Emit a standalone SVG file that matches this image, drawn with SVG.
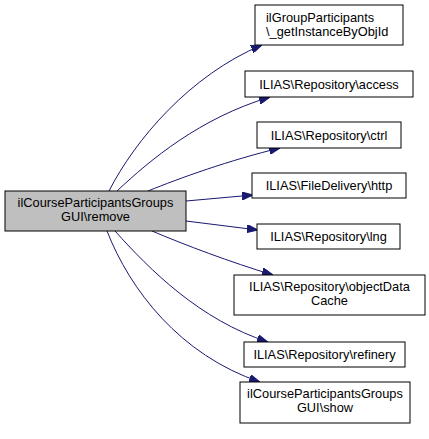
<svg xmlns="http://www.w3.org/2000/svg" width="429" height="439" viewBox="0 0 429 439">
<style>
.box{fill:#fff;stroke:#000;stroke-width:1}
.main{fill:#bfbfbf;stroke:#000;stroke-width:1}
text{font-family:"Liberation Sans",Arial,Helvetica,sans-serif;font-size:12.8px;fill:#000}
.c{text-anchor:middle}
.e{fill:none;stroke:#191970;stroke-width:1;marker-end:url(#ah)}
</style>
<defs>
<marker id="ah" markerUnits="userSpaceOnUse" markerWidth="11" markerHeight="8" refX="11" refY="4" orient="auto">
<path d="M0,0 L11,4 L0,8 z" fill="#191970" stroke="#191970" stroke-width="1"/>
</marker>
</defs>
<rect width="429" height="439" fill="#fff"/>
<g id="connectors">
<path class="e" d="M109,191 C135,140 190,75 262,45"/>
<path class="e" d="M117,191 C150,160 200,118 270,97"/>
<path class="e" d="M148,191 C180,178 230,160 280,148"/>
<path class="e" d="M186,201 L253,195"/>
<path class="e" d="M186,221 L258,230"/>
<path class="e" d="M152,231 C185,245 230,262 273,275"/>
<path class="e" d="M115,231 C150,270 200,320 268,342"/>
<path class="e" d="M107,231 C130,290 180,355 260,382"/>
</g>
<g id="node-main">
<rect class="main" x="5" y="191" width="181" height="40"/>
<text class="c" x="95.5" y="207">ilCourseParticipantsGroups</text>
<text class="c" x="95.5" y="221">GUI\remove</text>
</g>
<g id="node-getInstance">
<rect class="box" x="255" y="5" width="148" height="40"/>
<text x="266" y="22">ilGroupParticipants</text>
<text x="266" y="36">\_getInstanceByObjId</text>
</g>
<g id="node-access">
<rect class="box" x="245" y="71" width="168" height="26"/>
<text class="c" x="329" y="88.5">ILIAS\Repository\access</text>
</g>
<g id="node-ctrl">
<rect class="box" x="257" y="122" width="144" height="26"/>
<text class="c" x="329" y="139.5">ILIAS\Repository\ctrl</text>
</g>
<g id="node-http">
<rect class="box" x="252" y="173" width="154" height="25"/>
<text class="c" x="329" y="190">ILIAS\FileDelivery\http</text>
</g>
<g id="node-lng">
<rect class="box" x="257" y="224" width="143" height="25"/>
<text class="c" x="328.5" y="241">ILIAS\Repository\lng</text>
</g>
<g id="node-objectDataCache">
<rect class="box" x="234" y="275" width="191" height="40"/>
<text class="c" x="329.5" y="291">ILIAS\Repository\objectData</text>
<text class="c" x="329.5" y="305">Cache</text>
</g>
<g id="node-refinery">
<rect class="box" x="244" y="342" width="161" height="25"/>
<text class="c" x="324.5" y="359">ILIAS\Repository\refinery</text>
</g>
<g id="node-show">
<rect class="box" x="240" y="382" width="170" height="41"/>
<text class="c" x="325" y="398">ilCourseParticipantsGroups</text>
<text class="c" x="325" y="412">GUI\show</text>
</g>
</svg>
